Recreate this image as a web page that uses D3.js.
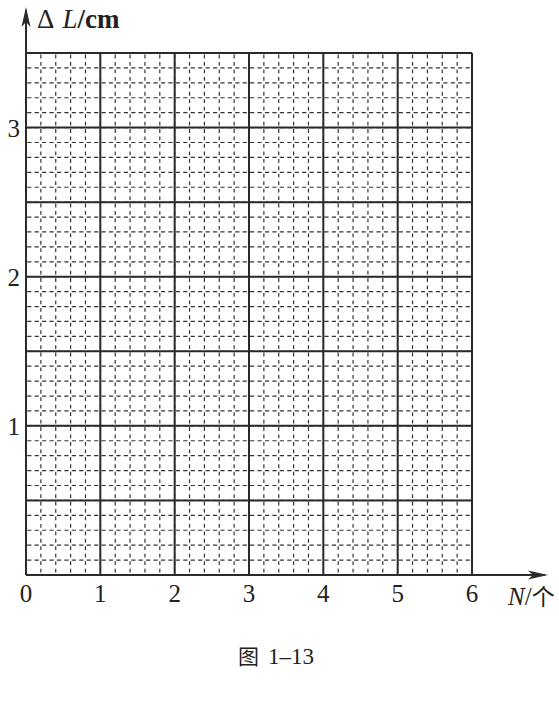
<!DOCTYPE html>
<html>
<head>
<meta charset="utf-8">
<script src="https://cdn.jsdelivr.net/npm/d3@7"></script>
<style>
  body { margin: 0; background: #fff; }
  text { font-family: "Liberation Serif", "Noto Sans CJK SC", serif; fill: #222; }
</style>
</head>
<body>
<div id="chart"></div>
<script>
// axis values
const xTicks = [0, 1, 2, 3, 4, 5, 6];
const yTicks = [1, 2, 3];
const xMax = 6, yMax = 3.5;
const xMajorStep = 1, yMajorStep = 0.5;
const minorDiv = 5;
const captionFig = "图";
const captionNum = "1–13";

let width = 559,
    height = 701;

const svg = d3.select("#chart")
  .append("svg")
  .attr("width", width)
  .attr("height", height);

const x = d3.scaleLinear().domain([0, xMax]).range([26, 472]);
const y = d3.scaleLinear().domain([0, yMax]).range([575, 53]);

const ink = "#2a2a2a";

// minor grid (dashed, graph-paper look)
let xMinor = d3.range(0, xMax + 1e-9, xMajorStep / minorDiv),
    yMinor = d3.range(0, yMax + 1e-9, yMajorStep / minorDiv);

svg.append("g")
  .selectAll("line")
  .data(xMinor)
  .enter().append("line")
  .attr("x1", d => x(d)).attr("x2", d => x(d))
  .attr("y1", y(yMax)).attr("y2", y(0))
  .attr("stroke", "#333")
  .attr("stroke-width", 1.2)
  .attr("stroke-dasharray", "3.8,3.65")
  .attr("stroke-dashoffset", -1.6);

svg.append("g")
  .selectAll("line")
  .data(yMinor)
  .enter().append("line")
  .attr("y1", d => y(d)).attr("y2", d => y(d))
  .attr("x1", x(0)).attr("x2", x(xMax))
  .attr("stroke", "#333")
  .attr("stroke-width", 1.2)
  .attr("stroke-dasharray", "4.2,3.23")
  .attr("stroke-dashoffset", -1.2);

// major grid
let xMajor = d3.range(0, xMax + 1e-9, xMajorStep),
    yMajor = d3.range(0, yMax + 1e-9, yMajorStep);

svg.append("g")
  .selectAll("line")
  .data(xMajor)
  .enter().append("line")
  .attr("x1", d => x(d)).attr("x2", d => x(d))
  .attr("y1", y(yMax)).attr("y2", y(0))
  .attr("stroke", ink)
  .attr("stroke-width", 2);

svg.append("g")
  .selectAll("line")
  .data(yMajor)
  .enter().append("line")
  .attr("y1", d => y(d)).attr("y2", d => y(d))
  .attr("x1", x(0)).attr("x2", x(xMax))
  .attr("stroke", ink)
  .attr("stroke-width", 2);

// axes with arrows
svg.append("line")
  .attr("x1", x(0)).attr("x2", x(0))
  .attr("y1", y(0)).attr("y2", 10)
  .attr("stroke", ink).attr("stroke-width", 2);
svg.append("path")
  .attr("d", "M" + x(0) + ",7 L" + (x(0) - 4.5) + ",27 L" + x(0) + ",22 L" + (x(0) + 4.5) + ",27 Z")
  .attr("fill", ink);

svg.append("line")
  .attr("x1", x(0)).attr("x2", 545)
  .attr("y1", y(0)).attr("y2", y(0))
  .attr("stroke", ink).attr("stroke-width", 2);
svg.append("path")
  .attr("d", "M548," + y(0) + " L528," + (y(0) - 4.5) + " L533," + y(0) + " L528," + (y(0) + 4.5) + " Z")
  .attr("fill", ink);

// tick labels
svg.append("g")
  .selectAll("text")
  .data(xTicks)
  .enter().append("text")
  .attr("x", d => x(d))
  .attr("y", 602)
  .attr("text-anchor", "middle")
  .attr("font-size", 25)
  .text(d => d);

svg.append("g")
  .selectAll("text")
  .data(yTicks)
  .enter().append("text")
  .attr("x", 20)
  .attr("y", d => y(d) + 9)
  .attr("text-anchor", "end")
  .attr("font-size", 25)
  .text(d => d);

// axis titles
let yt = svg.append("text")
  .attr("x", 37).attr("y", 28)
  .attr("font-size", 27);
yt.append("tspan").text("Δ");
yt.append("tspan").attr("dx", 8).attr("font-style", "italic").text("L");
yt.append("tspan").attr("font-weight", "bold").text("/cm");

let xt = svg.append("text")
  .attr("x", 508).attr("y", 605)
  .attr("font-size", 25);
xt.append("tspan").attr("font-style", "italic").text("N");
xt.append("tspan").text("/");
xt.append("tspan").attr("font-family", "Noto Sans CJK SC").attr("font-size", 23).text("个");

// caption
let cap = svg.append("text")
  .attr("x", 238).attr("y", 664)
  .attr("font-size", 23);
cap.append("tspan").attr("font-family", "Noto Sans CJK SC").attr("font-size", 21).text(captionFig);
cap.append("tspan").attr("dx", 9).attr("font-family", "Liberation Serif").text(captionNum);
</script>
</body>
</html>
